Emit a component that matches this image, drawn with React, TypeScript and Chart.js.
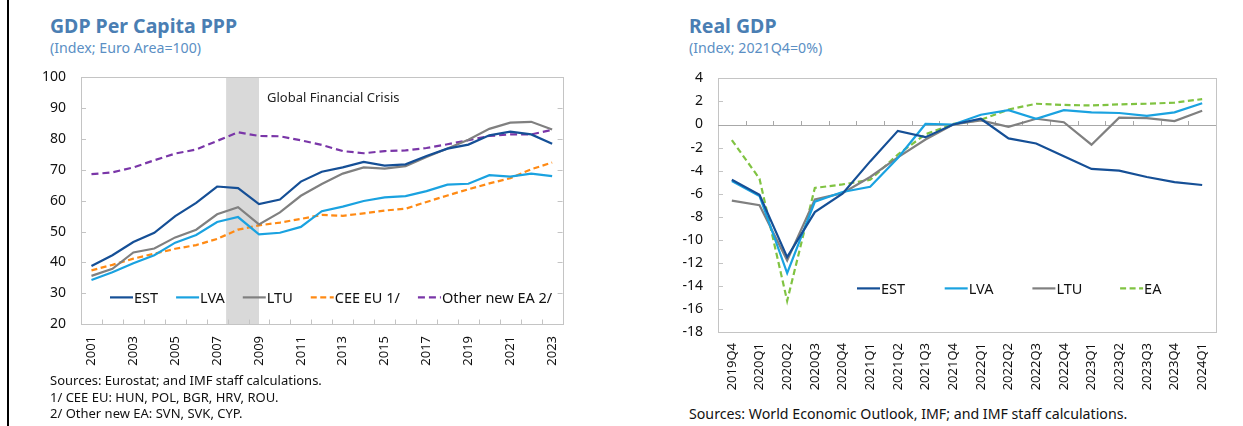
import React, { useEffect, useRef } from 'react';
import { Chart, registerables } from 'chart.js';

Chart.register(...registerables);

const FONT = "'Noto Sans', 'DejaVu Sans', sans-serif";

// ---------- Left chart: GDP per capita PPP (Euro Area = 100) ----------
const years = ['2001', '2002', '2003', '2004', '2005', '2006', '2007', '2008', '2009', '2010', '2011', '2012',
  '2013', '2014', '2015', '2016', '2017', '2018', '2019', '2020', '2021', '2022', '2023'];
const estPpp = [38.8, 42.3, 46.6, 49.6, 55.0, 59.3, 64.6, 64.1, 58.9, 60.4, 66.2, 69.4, 70.8, 72.6, 71.4, 71.8, 74.5, 76.9, 78.2, 81.2, 82.4, 81.5, 78.5];
const lvaPpp = [34.3, 36.8, 39.7, 42.3, 46.4, 48.9, 53.1, 54.7, 49.1, 49.6, 51.5, 56.6, 58.1, 59.9, 61.1, 61.5, 63.1, 65.2, 65.5, 68.3, 67.8, 68.8, 68.0];
const ltuPpp = [35.6, 37.9, 43.2, 44.5, 48.1, 50.6, 55.6, 57.9, 52.3, 56.2, 61.6, 65.4, 68.8, 70.8, 70.4, 71.2, 74.2, 76.9, 79.8, 83.3, 85.3, 85.6, 83.1];
const ceePpp = [37.4, 39.2, 41.2, 42.8, 44.4, 45.6, 47.6, 50.6, 52.0, 52.9, 54.1, 55.4, 55.1, 55.9, 56.8, 57.4, 59.6, 61.7, 63.7, 65.6, 67.3, 70.2, 72.4];
const otherEaPpp = [68.6, 69.2, 70.8, 73.1, 75.3, 76.6, 79.4, 82.2, 81.0, 80.9, 79.6, 78.1, 76.1, 75.4, 76.1, 76.3, 77.1, 78.3, 79.6, 81.0, 81.5, 81.5, 83.0];
const pppTicks = { min: 20, max: 100, step: 10 };
const crisisLabel = 'Global Financial Crisis';
const crisisFrom = '2008';
const crisisTo = '2009';

// ---------- Right chart: Real GDP (2021Q4 = 0%) ----------
const quarters = ['2019Q4', '2020Q1', '2020Q2', '2020Q3', '2020Q4', '2021Q1', '2021Q2', '2021Q3', '2021Q4',
  '2022Q1', '2022Q2', '2022Q3', '2022Q4', '2023Q1', '2023Q2', '2023Q3', '2023Q4', '2024Q1'];
const estGdp = [-4.8, -6.1, -11.5, -7.6, -6.0, -3.2, -0.55, -1.1, 0.0, 0.5, -1.2, -1.65, -2.75, -3.85, -4.0, -4.55, -5.0, -5.25];
const lvaGdp = [-4.9, -6.2, -12.9, -6.7, -5.85, -5.4, -2.9, 0.05, 0.0, 0.85, 1.25, 0.5, 1.25, 1.05, 1.0, 0.75, 1.05, 1.85];
const ltuGdp = [-6.6, -7.0, -11.8, -6.5, -5.95, -4.55, -2.85, -1.3, 0.0, 0.35, -0.2, 0.5, 0.2, -1.75, 0.6, 0.55, 0.3, 1.2];
const eaGdp = [-1.35, -4.7, -15.3, -5.5, -5.2, -4.8, -2.6, -0.85, 0.05, 0.4, 1.3, 1.8, 1.7, 1.65, 1.75, 1.8, 1.9, 2.2];
const gdpTicks = { min: -18, max: 4, step: 2 };

const C_EST = '#154f96';
const C_LVA = '#1aa2e0';
const C_LTU = '#808080';
const C_CEE = '#ff8a14';
const C_OTHER = '#7a36a8';
const C_EA = '#80c342';
const FRAME = '#c4c4c4';

type FrameCfg = {
  ticksLeft: boolean;
  ticksRight: boolean;
  xTicksAtZero: boolean;
  band?: { from: string; to: string; label: string };
  legend: { dx: number; dy: number; lineLen: number; gap: number; slot?: number };
};

function framePlugin(cfg: FrameCfg) {
  return {
    id: 'frame',
    beforeDatasetsDraw(chart: any) {
      const { ctx, chartArea: a, scales } = chart;
      const xs = scales.x;
      const ys = scales.y;
      ctx.save();
      if (cfg.band) {
        const labels = chart.data.labels as string[];
        const i0 = labels.indexOf(cfg.band.from) - 0.57;
        const i1 = labels.indexOf(cfg.band.to);
        const x0 = xs.getPixelForValue(i0);
        const x1 = xs.getPixelForValue(i1);
        ctx.fillStyle = '#d9d9d9';
        ctx.fillRect(x0, a.top, x1 - x0, a.bottom - a.top);
      }
      ctx.strokeStyle = FRAME;
      ctx.lineWidth = 1;
      ctx.strokeRect(Math.round(a.left) + 0.5, Math.round(a.top) + 0.5, Math.round(a.right - a.left), Math.round(a.bottom - a.top));
      ys.ticks.forEach((t: any) => {
        const py = Math.round(ys.getPixelForValue(t.value)) + 0.5;
        if (Math.abs(py - a.top) < 2 || Math.abs(py - a.bottom) < 2) return;
        ctx.beginPath();
        if (cfg.ticksLeft) { ctx.moveTo(a.left, py); ctx.lineTo(a.left + 5, py); }
        if (cfg.ticksRight) { ctx.moveTo(a.right, py); ctx.lineTo(a.right - 5, py); }
        ctx.stroke();
      });
      let baseY = a.bottom;
      if (cfg.xTicksAtZero) {
        baseY = Math.round(ys.getPixelForValue(0)) + 0.5;
        ctx.strokeStyle = '#a8a8a8';
        ctx.beginPath();
        ctx.moveTo(a.left, baseY);
        ctx.lineTo(a.right, baseY);
        ctx.stroke();
      }
      const n = chart.data.labels.length;
      ctx.beginPath();
      for (let i = 1; i < n; i++) {
        const px = Math.round(xs.getPixelForValue(i - 0.5)) + 0.5;
        ctx.moveTo(px, baseY);
        ctx.lineTo(px, baseY - 4.5);
      }
      ctx.stroke();
      ctx.restore();
    },
    afterDatasetsDraw(chart: any) {
      const { ctx, chartArea: a, scales } = chart;
      ctx.save();
      if (cfg.band) {
        const labels = chart.data.labels as string[];
        const x1 = scales.x.getPixelForValue(labels.indexOf(cfg.band.to));
        ctx.font = `13px ${FONT}`;
        ctx.fillStyle = '#222';
        ctx.textBaseline = 'middle';
        ctx.textAlign = 'left';
        ctx.fillText(cfg.band.label, x1 + 8, a.top + 21);
      }
      const lg = cfg.legend;
      let x = a.left + lg.dx;
      const y = a.top + lg.dy;
      ctx.font = `14.5px ${FONT}`;
      ctx.textBaseline = 'middle';
      ctx.textAlign = 'left';
      chart.data.datasets.forEach((ds: any) => {
        ctx.save();
        ctx.strokeStyle = ds.borderColor;
        ctx.lineWidth = 2.2;
        ctx.setLineDash(ds.borderDash || []);
        ctx.beginPath();
        ctx.moveTo(x, y);
        ctx.lineTo(x + lg.lineLen, y);
        ctx.stroke();
        ctx.restore();
        ctx.fillStyle = '#111';
        ctx.fillText(ds.label, x + lg.lineLen + 1, y + 1);
        const w = ctx.measureText(ds.label).width;
        x = lg.slot ? x + lg.slot : x + lg.lineLen + 1 + w + lg.gap;
      });
      ctx.restore();
    },
  };
}

function line(label: string, data: number[], color: string, dash?: number[]) {
  return {
    label,
    data,
    borderColor: color,
    backgroundColor: color,
    borderWidth: 2.2,
    borderDash: dash || [],
    pointRadius: 0,
    pointHoverRadius: 0,
    tension: 0,
    fill: false,
  };
}

type ChartBoxProps = {
  left: number; top: number; width: number; height: number;
  labels: string[];
  labelEvery: number;
  datasets: any[];
  yRange: { min: number; max: number; step: number };
  yWidth: number; xHeight: number;
  padding: { top: number; right: number; left: number; bottom: number };
  xPad: number;
  frame: FrameCfg;
};

function ChartBox(p: ChartBoxProps) {
  const ref = useRef<HTMLCanvasElement | null>(null);
  useEffect(() => {
    if (!ref.current) return;
    const chart = new Chart(ref.current, {
      type: 'line',
      data: { labels: p.labels, datasets: p.datasets },
      options: {
        animation: false,
        responsive: false,
        maintainAspectRatio: false,
        devicePixelRatio: 1,
        layout: { padding: p.padding },
        plugins: { legend: { display: false }, tooltip: { enabled: false } },
        events: [],
        scales: {
          x: {
            type: 'category',
            offset: true,
            grid: { display: false, drawTicks: false },
            border: { display: false },
            ticks: {
              autoSkip: false,
              minRotation: 90,
              maxRotation: 90,
              padding: p.xPad,
              color: '#111',
              font: { family: FONT, size: 13 },
              callback: (_v: any, i: number) => (i % p.labelEvery === 0 ? p.labels[i] : ''),
            },
            afterFit: (s: any) => { s.height = p.xHeight; },
          },
          y: {
            min: p.yRange.min,
            max: p.yRange.max,
            grid: { display: false, drawTicks: false },
            border: { display: false },
            ticks: {
              stepSize: p.yRange.step,
              padding: 15,
              color: '#111',
              font: { family: FONT, size: 14 },
            },
            afterFit: (s: any) => { s.width = p.yWidth; },
          },
        },
      },
      plugins: [framePlugin(p.frame)],
    } as any);
    return () => chart.destroy();
  }, []);
  return (
    <canvas
      ref={ref}
      width={p.width}
      height={p.height}
      style={{ position: 'absolute', left: p.left, top: p.top, width: p.width, height: p.height }}
    />
  );
}

const titleStyle: React.CSSProperties = {
  position: 'absolute', fontFamily: FONT, fontWeight: 700, fontSize: 19.5, lineHeight: '20px',
  color: '#4a7eb3', whiteSpace: 'nowrap', margin: 0,
};
const subStyle: React.CSSProperties = {
  position: 'absolute', fontFamily: FONT, fontSize: 14.2, lineHeight: '14px',
  color: '#5b8fc4', whiteSpace: 'nowrap', margin: 0,
};
const noteStyle: React.CSSProperties = {
  position: 'absolute', fontFamily: FONT, fontSize: 13, lineHeight: '16.5px',
  color: '#111', whiteSpace: 'nowrap', margin: 0,
};

export default function App() {
  return (
    <div style={{ position: 'absolute', left: 0, top: 0, width: 1243, height: 426, background: '#fff', overflow: 'hidden' }}>
      <div style={{ position: 'absolute', left: 7, top: 0, width: 2, height: 426, background: '#000' }} />

      <div style={{ ...titleStyle, left: 50, top: 16 }}>GDP Per Capita PPP</div>
      <div style={{ ...subStyle, left: 50, top: 41 }}>(Index; Euro Area=100)</div>

      <ChartBox
        left={20} top={54} width={560} height={326}
        labels={years}
        labelEvery={2}
        datasets={[
          line('EST', estPpp, C_EST),
          line('LVA', lvaPpp, C_LVA),
          line('LTU', ltuPpp, C_LTU),
          line('CEE EU 1/', ceePpp, C_CEE, [6, 3.5]),
          line('Other new EA 2/', otherEaPpp, C_OTHER, [7, 4]),
        ]}
        yRange={pppTicks}
        yWidth={61} xHeight={56}
        padding={{ top: 10, right: 12, left: 0, bottom: 0 }}
        xPad={12}
        frame={{
          ticksLeft: true, ticksRight: true, xTicksAtZero: false,
          band: { from: crisisFrom, to: crisisTo, label: crisisLabel },
          legend: { dx: 29, dy: 220, lineLen: 23, gap: 18 },
        }}
      />

      <div style={{ ...noteStyle, left: 50, top: 372 }}>
        Sources: Eurostat; and IMF staff calculations.<br />
        1/ CEE EU: HUN, POL, BGR, HRV, ROU.<br />
        2/ Other new EA: SVN, SVK, CYP.
      </div>

      <div style={{ ...titleStyle, left: 689, top: 16 }}>Real GDP</div>
      <div style={{ ...subStyle, left: 689, top: 41 }}>(Index; 2021Q4=0%)</div>

      <ChartBox
        left={650} top={55} width={580} height={345}
        labels={quarters}
        labelEvery={1}
        datasets={[
          line('EST', estGdp, C_EST),
          line('LVA', lvaGdp, C_LVA),
          line('LTU', ltuGdp, C_LTU),
          line('EA', eaGdp, C_EA, [6, 3.5]),
        ]}
        yRange={gdpTicks}
        yWidth={68} xHeight={68}
        padding={{ top: 12, right: 14, left: 0, bottom: 0 }}
        xPad={11}
        frame={{
          ticksLeft: true, ticksRight: false, xTicksAtZero: true,
          legend: { dx: 139, dy: 210, lineLen: 23, gap: 18, slot: 87.7 },
        }}
      />

      <div style={{ ...noteStyle, fontSize: 14.2, lineHeight: '17px', left: 689, top: 405 }}>
        Sources: World Economic Outlook, IMF; and IMF staff calculations.
      </div>
    </div>
  );
}
